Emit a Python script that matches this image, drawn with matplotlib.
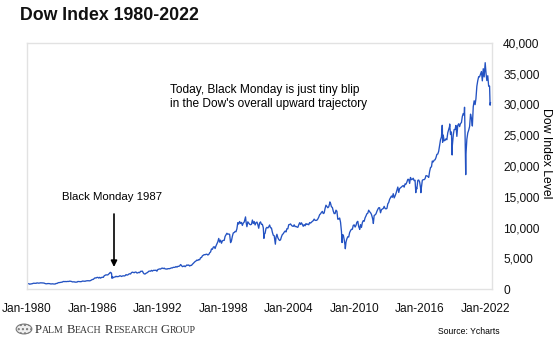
import pandas as pd
import matplotlib.pyplot as plt
import matplotlib.dates as mdates
from matplotlib.patches import Circle
from matplotlib.ticker import FuncFormatter

# Monthly closes of the Dow, Jan-1980 .. Jun-2022
dow_monthly = [
    876, 863, 786, 817, 851, 868, 935, 933, 932, 925, 993, 964,
    947, 975, 1004, 998, 992, 977, 953, 882, 850, 853, 889, 875,
    871, 825, 823, 848, 820, 812, 809, 901, 896, 992, 1039, 1047,
    1076, 1113, 1130, 1226, 1200, 1222, 1199, 1216, 1233, 1225, 1276, 1259,
    1221, 1155, 1165, 1171, 1105, 1132, 1115, 1224, 1207, 1207, 1189, 1212,
    1287, 1284, 1267, 1258, 1315, 1336, 1348, 1334, 1329, 1375, 1472, 1547,
    1571, 1709, 1819, 1784, 1877, 1893, 1775, 1898, 1768, 1878, 1914, 1896,
    2158, 2224, 2305, 2286, 2292, 2419, 2572, 2663, 2596, 1994, 1834, 1939,
    1958, 2072, 1988, 2032, 2031, 2142, 2129, 2032, 2113, 2149, 2115, 2169,
    2342, 2258, 2294, 2419, 2480, 2440, 2661, 2737, 2693, 2645, 2748, 2753,
    2591, 2627, 2707, 2657, 2877, 2881, 2905, 2614, 2453, 2442, 2560, 2634,
    2736, 2882, 2914, 2888, 3028, 2907, 3025, 3044, 3017, 3069, 2895, 3169,
    3224, 3267, 3236, 3359, 3397, 3319, 3394, 3257, 3272, 3226, 3306, 3301,
    3310, 3370, 3435, 3428, 3527, 3516, 3540, 3651, 3555, 3681, 3684, 3754,
    3978, 3832, 3636, 3682, 3758, 3625, 3765, 3913, 3843, 3908, 3739, 3834,
    3844, 4011, 4158, 4321, 4465, 4556, 4709, 4648, 4789, 4756, 5075, 5117,
    5395, 5486, 5587, 5569, 5643, 5655, 5529, 5616, 5882, 6029, 6522, 6448,
    6813, 6878, 6584, 7009, 7331, 7673, 8223, 7622, 7945, 7442, 7823, 7908,
    7907, 8546, 8800, 9063, 8900, 8952, 8883, 7539, 7843, 8592, 9117, 9181,
    9359, 9307, 9786, 10789, 10560, 10971, 10655, 10829, 10337, 10730, 10878, 11497,
    10941, 10128, 10922, 10734, 10522, 10448, 10522, 11215, 10651, 10971, 10415, 10787,
    10887, 10495, 9879, 10735, 10912, 10502, 10523, 9950, 8848, 9075, 9852, 10022,
    9920, 10106, 10404, 9946, 9925, 9243, 8737, 8664, 7592, 8397, 8896, 8342,
    8054, 7891, 7992, 8480, 8850, 8985, 9234, 9416, 9275, 9801, 9782, 10454,
    10488, 10584, 10358, 10226, 10188, 10435, 10140, 10174, 10080, 10027, 10428, 10783,
    10490, 10766, 10504, 10193, 10467, 10275, 10641, 10482, 10569, 10440, 10806, 10718,
    10865, 10993, 11109, 11367, 11168, 11150, 11186, 11381, 11679, 12081, 12222, 12463,
    12622, 12269, 12354, 13063, 13628, 13409, 13212, 13358, 13896, 13930, 13372, 13265,
    12650, 12266, 12263, 12820, 12638, 11350, 11378, 11544, 10851, 9325, 8829, 8776,
    8001, 7063, 7609, 8168, 8500, 8447, 9172, 9496, 9712, 9713, 10345, 10428,
    10067, 10325, 10857, 11009, 10137, 9774, 10466, 10015, 10788, 11118, 11006, 11578,
    11892, 12226, 12320, 12811, 12570, 12414, 12143, 11614, 10913, 11955, 12046, 12218,
    12633, 12952, 13212, 13214, 12393, 12880, 13009, 13091, 13437, 13096, 13026, 13104,
    13861, 14054, 14579, 14840, 15116, 14910, 15500, 14810, 15130, 15546, 16086, 16577,
    15699, 16322, 16458, 16581, 16717, 16827, 16563, 17098, 17043, 17391, 17828, 17823,
    17165, 18133, 17776, 17841, 18011, 17620, 17690, 16528, 16285, 17664, 17720, 17425,
    16466, 16517, 17685, 17774, 17787, 17930, 18432, 18401, 18308, 18142, 19124, 19763,
    19864, 20812, 20663, 20941, 21009, 21350, 21891, 21948, 22405, 23377, 24272, 24719,
    26149, 25029, 24103, 24163, 24416, 24271, 25415, 25965, 26458, 25116, 25538, 23327,
    24999, 25916, 25929, 26593, 24815, 26600, 26864, 26403, 26917, 27046, 28051, 28538,
    28256, 25409, 21917, 24346, 25383, 25813, 26428, 28430, 27782, 26502, 29639, 30606,
    29983, 30932, 32982, 33874, 34529, 34503, 34935, 35361, 33844, 35820, 34484, 36338,
    35132, 33893, 34678, 32977, 32990, 30300,
]

# intra-month highs/lows that show up on the chart
event_dates = ["1987-08-25", "1987-10-19", "1998-08-31", "2000-01-14", "2001-09-21",
               "2002-10-09", "2007-10-09", "2008-11-20", "2009-03-09", "2010-07-02",
               "2011-10-03", "2015-08-25", "2016-02-11", "2018-01-26", "2018-02-08",
               "2018-10-03", "2018-12-24", "2020-02-12", "2020-03-23", "2022-01-04",
               "2022-06-17"]
event_values = [2722, 1739, 7539, 11723, 8236,
                7286, 14165, 7552, 6547, 9686,
                10655, 15666, 15660, 26617, 23860,
                26828, 21792, 29551, 18592, 36800,
                29888]

x_ticks = ["Jan-1980", "Jan-1986", "Jan-1992", "Jan-1998", "Jan-2004",
           "Jan-2010", "Jan-2016", "Jan-2022"]

monthly = pd.Series(dow_monthly,
                    index=pd.date_range("1980-01-31", periods=len(dow_monthly), freq="ME"))
events = pd.Series(event_values, index=pd.to_datetime(event_dates))
dow = pd.concat([monthly, events]).sort_index()

plt.rcParams["font.family"] = "Liberation Sans"

fig = plt.figure(figsize=(5.6, 3.52), dpi=100)
ax = fig.add_axes([27 / 560, 1 - 289 / 352, 465 / 560, 246 / 352])

ax.plot(dow.index, dow.values, color="#2352c2", lw=0.95)

ax.set_xlim(pd.Timestamp("1980-01-01"), pd.Timestamp("2022-08-20"))
ax.set_ylim(0, 40000)
ax.set_xticks(pd.to_datetime([s.replace("Jan-", "") + "-01-01" for s in x_ticks]))
ax.xaxis.set_major_formatter(mdates.DateFormatter("Jan-%Y"))
ax.set_yticks(range(0, 40001, 5000))
ax.yaxis.set_major_formatter(FuncFormatter(lambda v, p: f"{int(v):,}"))
ax.yaxis.tick_right()
ax.tick_params(axis="both", length=0, labelsize=8.6, colors="#111111")
ax.tick_params(axis="y", pad=8)
ax.tick_params(axis="x", pad=10)
for sp in ax.spines.values():
    sp.set_color("#e2e2e2")
    sp.set_linewidth(1)

fig.text(20 / 560, 1 - 15 / 352, "Dow Index 1980-2022", fontsize=12.8, fontweight="bold",
         va="center", ha="left", color="#111111")
fig.text(546 / 560, 1 - 153 / 352, "Dow Index Level", rotation=270, fontsize=8.8,
         va="center", ha="center")

fig.text(170 / 560, 1 - 97 / 352,
         "Today, Black Monday is just tiny blip\nin the Dow's overall upward trajectory",
         fontsize=8.6, va="center", ha="left", linespacing=1.25)
fig.text(112 / 560, 1 - 197 / 352, "Black Monday 1987", fontsize=8.2,
         va="center", ha="center")
ax.annotate("", xy=(114 / 560, 1 - 267 / 352), xytext=(114 / 560, 1 - 214 / 352),
            xycoords="figure fraction", textcoords="figure fraction",
            arrowprops=dict(arrowstyle="-|>", color="black", lw=1.2,
                            mutation_scale=9, shrinkA=0, shrinkB=0))

# footer: seal + small-caps company name
seal = Circle((24 / 560, 1 - 329 / 352), 0.014, transform=fig.transFigure,
              facecolor="#f0f0f0", edgecolor="#777777", lw=0.8, hatch="....")
fig.add_artist(seal)

renderer = fig.canvas.get_renderer()
x = 35
for word in ["PALM", "BEACH", "RESEARCH", "GROUP"]:
    big = fig.text(x / 560, 1 - 333 / 352, word[0], fontsize=9.2, family="Liberation Serif",
                   color="#333333", va="baseline")
    x = big.get_window_extent(renderer).x1
    small = fig.text(x / 560, 1 - 333 / 352, word[1:], fontsize=7.0, family="Liberation Serif",
                     color="#333333", va="baseline")
    x = small.get_window_extent(renderer).x1 + 3

fig.text(469 / 560, 1 - 331 / 352, "Source: Ycharts", fontsize=6.2, va="center",
         ha="center")

fig.savefig("out.png", dpi=100)
